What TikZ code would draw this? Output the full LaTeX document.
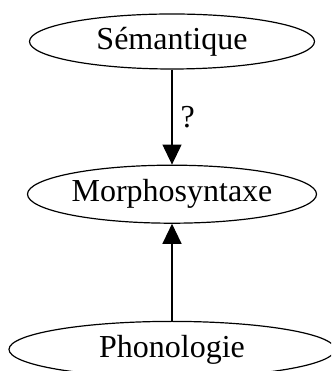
\documentclass[tikz,border=0pt]{standalone}
\usepackage{fontspec}
\setmainfont{Liberation Serif}
\usetikzlibrary{arrows.meta,positioning,shapes.geometric}

\begin{document}
\begin{tikzpicture}[
x=1pt,y=1pt,
node distance=95pt and 1cm,
niveau/.style={
draw,
ellipse,
line width=1.2pt,
inner sep=0pt,
font=\fontsize{32}{38}\selectfont
},
arrow/.style={-{Triangle[length=20pt,width=19pt]},line width=1.2pt}
]
\useasboundingbox (0,0) rectangle (331,371);
\clip (0,0) rectangle (331,371);
\node[niveau,minimum width=285pt,minimum height=55pt] (sem) at (172,329.5) {Sémantique};
\node[niveau,minimum width=289pt,minimum height=58pt,below=of sem] (morph) {Morphosyntaxe};
\node[niveau,minimum width=326pt,minimum height=56pt,below=97pt of morph] (phon) {Phonologie};

\draw[arrow] (sem) -- node[right=6pt,inner sep=2pt,font=\fontsize{32}{38}\selectfont] {?} (morph);
\draw[arrow] (phon) -- (morph);
\end{tikzpicture}
\end{document}
